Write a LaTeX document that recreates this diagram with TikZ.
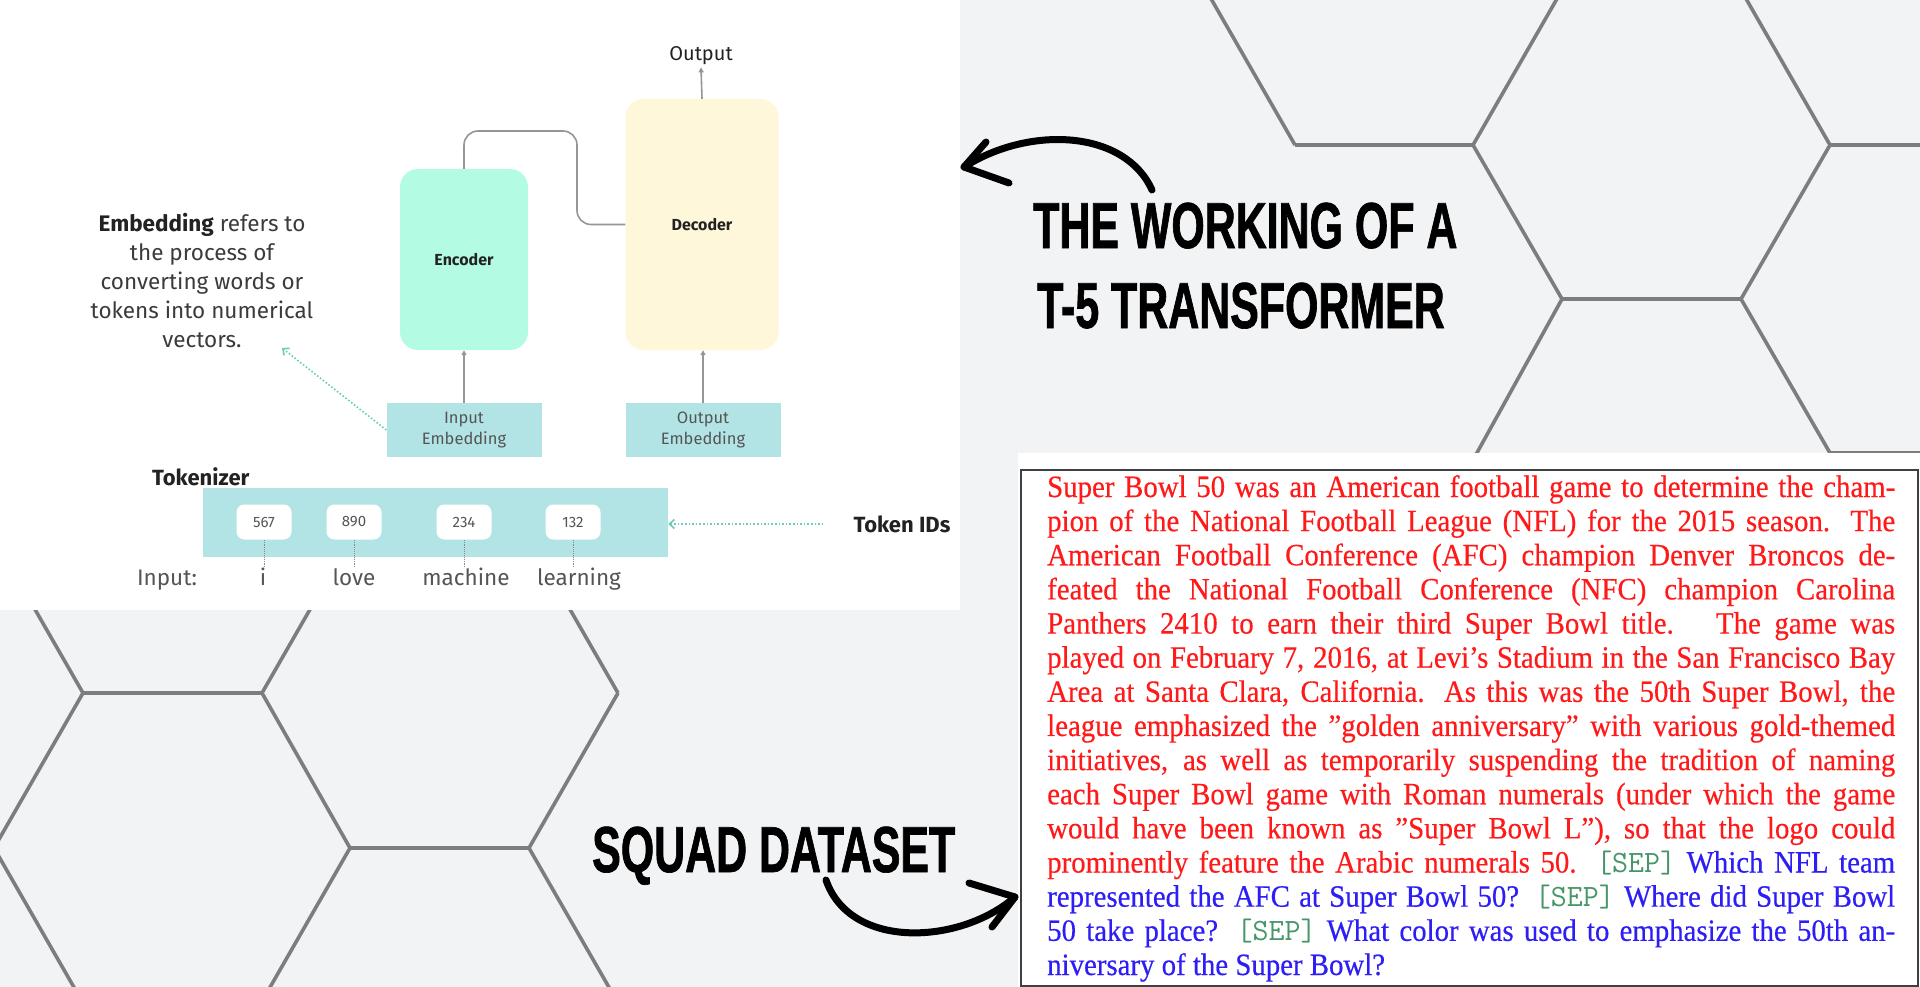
\documentclass[tikz,border=0pt]{standalone}
\usepackage{fontspec}
\usepackage{tikz}
\usetikzlibrary{positioning,arrows.meta}
\setmainfont{Fira Sans}
\newfontfamily\diagramFont{Fira Sans}
\newfontfamily\titleFont{Liberation Sans}[FakeStretch=0.66, BoldFeatures={FakeBold=1.0}]
\newfontfamily\paperFont{Liberation Serif}[FakeStretch=0.93, FakeBold=0.4]
\tikzstyle{canvas} = [x=1pt, y=-1pt]
\definecolor{backColor}{RGB}{242,243,245}
\definecolor{hexColor}{RGB}{125,125,125}
\definecolor{encoderColor}{RGB}{179,252,227}
\definecolor{decoderColor}{RGB}{254,247,218}
\definecolor{embedColor}{RGB}{178,228,230}
\definecolor{noteColor}{RGB}{105,205,185}
\definecolor{wireColor}{RGB}{150,150,150}
\definecolor{inkColor}{RGB}{34,34,34}
\definecolor{softInk}{RGB}{85,85,85}
\definecolor{paperRed}{RGB}{255,25,25}
\definecolor{paperBlue}{RGB}{45,30,245}
\definecolor{sepGreen}{RGB}{70,150,105}
\tikzstyle{hexLine} = [color=hexColor, line width=3.6pt]
\tikzstyle{blockStyle} = [rounded corners=18pt, inner sep=0pt, text=inkColor, font=\diagramFont\fontsize{16}{19}\selectfont\bfseries]
\tikzstyle{embedStyle} = [fill=embedColor, inner sep=0pt, minimum width=155pt, minimum height=54pt, align=center, text=softInk, font=\diagramFont\fontsize{16.5}{21}\selectfont]
\tikzstyle{idStyle} = [fill=white, rounded corners=8pt, minimum width=55pt, minimum height=35pt, inner sep=0pt, text=softInk, font=\diagramFont\fontsize{15}{18}\selectfont]
\tikzstyle{wordStyle} = [inner sep=2pt, text height=16pt, text depth=5pt, text=softInk, font=\diagramFont\fontsize{22.5}{26}\selectfont]
\tikzstyle{labelStyle} = [inner sep=0pt, text=inkColor, font=\diagramFont\fontsize{22}{26}\selectfont\bfseries]
\tikzstyle{wire} = [color=wireColor, line width=1.6pt]
\tikzstyle{wireArrow} = [wire, -{Triangle[length=5pt, width=5pt]}]
\tikzstyle{noteArrow} = [color=noteColor, line width=1.6pt, dotted, -{Straight Barb[length=5pt, width=9pt]}]
\tikzstyle{tickLine} = [color=softInk!70, line width=0.9pt, densely dotted]
\tikzstyle{handStroke} = [color=black, line width=7pt, line cap=round, line join=round]
\tikzstyle{titleStyle} = [inner sep=0pt, anchor=base west, font=\titleFont\fontsize{65}{70}\selectfont\bfseries]
\tikzstyle{paperStyle} = [inner sep=0pt, anchor=base west, text=paperRed, font=\paperFont\fontsize{31}{34}\selectfont]
\newcommand{\hexEdge}[4]{\draw [hexLine] (#1,#2) -- (#3,#4);}
\newcommand{\sepToken}{{\color{sepGreen}\ttfamily [SEP]}}
\newcommand{\paperLineWidth}{848pt}
\newcommand{\justLine}[1]{\makebox[\paperLineWidth][s]{#1}}
\begin{document}
\begin{tikzpicture}[canvas]
  \useasboundingbox (0,0) rectangle (1920,987);
  \fill [backColor] (0,0) rectangle (1920,987);

  % honeycomb, upper right and lower left
  \foreach \ax/\ay/\bx/\by in {1206/-10/1295/145, 1295/145/1473/145, 1562/-10/1473/145,
      1473/145/1562/299, 1562/299/1741/299, 1741/-10/1830/145, 1830/145/1930/145,
      1830/145/1741/299, 1562/299/1473/460, 1741/299/1830/453, 1830/453/1930/453,
      -6/538/83/693, 83/693/262/693, 351/538/262/693, 262/693/350/848,
      350/848/529/848, 529/538/618/693, 618/693/529/848, 83/693/-6/848,
      -6/848/83/1003, 350/848/261/1003, 529/848/618/1003} {
    \hexEdge{\ax}{\ay}{\bx}{\by}
  }

  % white panels
  \fill [white] (0,0) rectangle (960,610);
  \fill [white] (1018,453) rectangle (1920,987);
  \draw [color=black!75, line width=2pt] (1021,470) rectangle (1918,986);

  % encoder / decoder
  \node [blockStyle, fill=encoderColor, minimum width=128pt, minimum height=181pt] (encoder) at (464,259.5) {Encoder};
  \node [blockStyle, fill=decoderColor, minimum width=153pt, minimum height=251pt] (decoder) at (702,224.5) {Decoder};
  \node [embedStyle] (inputEmbedding) at (464,430) {Input\\Embedding};
  \node [embedStyle] (outputEmbedding) at (703,430) {Output\\Embedding};
  \node [text=inkColor, font=\diagramFont\fontsize{20}{24}\selectfont, inner sep=2pt] (outputLabel) at (701,56) {Output};
  \coordinate (bridge) at (577,131);
  \draw [wire, rounded corners=14pt] (encoder.north) |- (bridge) |- (decoder.west);
  \draw [wireArrow] (decoder.north) -- (outputLabel.south);
  \draw [wireArrow] (inputEmbedding.north) -- (encoder.south);
  \draw [wireArrow] (outputEmbedding.north) -- (outputEmbedding.north |- decoder.south);

  % note on embedding
  \node [align=center, text=softInk!70!black, font=\diagramFont\fontsize{22.5}{29}\selectfont] (embedNote) at (202,281)
    {\textbf{\color{inkColor}Embedding} refers to\\the process of\\converting words or\\tokens into numerical\\vectors.};
  \coordinate (noteTip) at (282,348);
  \draw [noteArrow] (inputEmbedding.west) -- (noteTip);

  % tokenizer
  \node [labelStyle, anchor=west] (tokenizerLabel) at (152,477) {Tokenizer};
  \node [fill=embedColor, minimum width=465pt, minimum height=69pt, inner sep=0pt] (tokenizer) at (435.5,522.5) {};
  \node [wordStyle] (inputLabel) at (167,580) {Input:};
  \foreach \tokenId/\tokenX/\word/\wordX [count=\i] in {567/264/i/263, 890/354/love/354, 234/464/machine/466, 132/573/learning/579} {
    \node [idStyle] (id\i) at (\tokenX,522) {\tokenId};
    \node [wordStyle] (word\i) at (\wordX,580) {\word};
    \draw [tickLine] (id\i.south) -- (id\i.south |- word\i.north);
  }
  \node [labelStyle] (tokenIds) at (902,524) {Token IDs};
  \draw [noteArrow, shorten <=30pt] (tokenIds.west) -- (tokenizer.east |- tokenIds.west);

  % titles
  \node [titleStyle] (titleTop) at (1033,248) {THE WORKING OF A};
  \node [titleStyle] (titleBottom) at (1037,328) {T-5 TRANSFORMER};
  \coordinate (titleArrowStart) at (1152,190);
  \coordinate (titleArrowTip) at (964,167);
  \draw [handStroke] (titleArrowStart) .. controls (1125,130) and (1030,125) .. (titleArrowTip);
  \draw [handStroke] (986,142) -- (titleArrowTip) -- (1009,183);

  \node [titleStyle] (squadTitle) at (592,872) {SQUAD DATASET};
  \coordinate (squadArrowStart) at (826,880);
  \coordinate (squadArrowTip) at (1015,897);
  \draw [handStroke] (squadArrowStart) .. controls (850,950) and (960,945) .. (squadArrowTip);
  \draw [handStroke] (969,883) -- (squadArrowTip) -- (992,927);

  % squad passage
  \foreach \lineText [count=\i] in {
      {Super Bowl 50 was an American football game to determine the cham-},
      {pion of the National Football League (NFL) for the 2015 season. The},
      {American Football Conference (AFC) champion Denver Broncos de-},
      {feated the National Football Conference (NFC) champion Carolina},
      {Panthers 2410 to earn their third Super Bowl title. \ The game was},
      {played on February 7, 2016, at Levi’s Stadium in the San Francisco Bay},
      {Area at Santa Clara, California. As this was the 50th Super Bowl, the},
      {league emphasized the ”golden anniversary” with various gold-themed},
      {initiatives, as well as temporarily suspending the tradition of naming},
      {each Super Bowl game with Roman numerals (under which the game},
      {would have been known as ”Super Bowl L”), so that the logo could},
      {prominently feature the Arabic numerals 50. \sepToken{} {\color{paperBlue}Which NFL team}},
      {{\color{paperBlue}represented the AFC at Super Bowl 50? \sepToken{} Where did Super Bowl}},
      {{\color{paperBlue}50 take place? \sepToken{} What color was used to emphasize the 50th an-}}} {
    \node [paperStyle] (paperLine\i) at (1047,{497 + 34.14*(\i-1)}) {\justLine{\lineText}};
  }
  \node [paperStyle, text=paperBlue] (paperLine15) at (1047,975) {niversary of the Super Bowl?};
\end{tikzpicture}
\end{document}
